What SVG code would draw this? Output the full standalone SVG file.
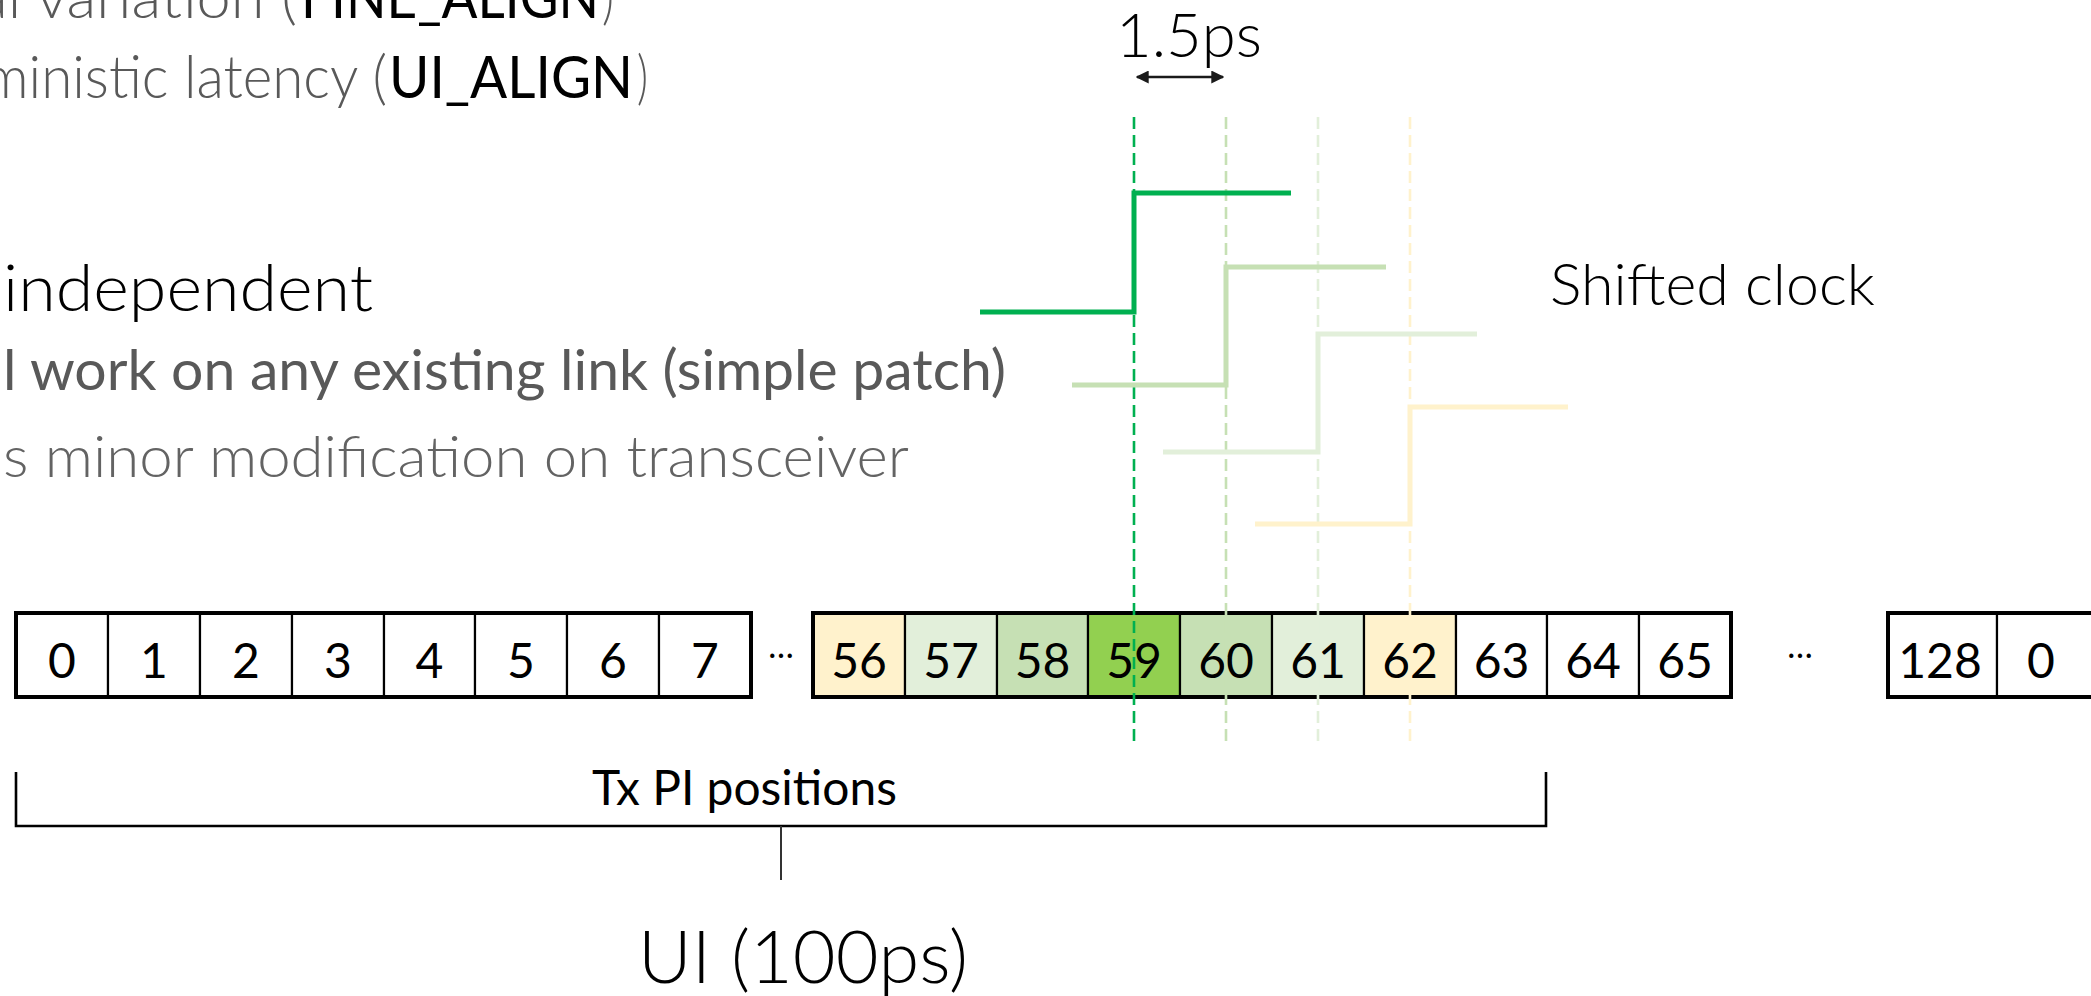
<svg xmlns="http://www.w3.org/2000/svg" width="2091" height="996" viewBox="0 0 2091 996">
<defs>
<style>
text{font-family:Lato,"Open Sans","Liberation Sans",sans-serif}
.lt{font-weight:300}
.rg{font-weight:400}
.gray{fill:#595959}
.gray2{fill:#636363}
.blk{fill:#000}
.cell{stroke:#000;stroke-width:2.2}
.frame{fill:none;stroke:#000;stroke-width:4}
.num{font-size:48px;text-anchor:middle;fill:#000;font-weight:400}
.dots{font-size:34px;text-anchor:middle;fill:#000}
.dash{fill:none;stroke-width:2.6;stroke-dasharray:12 6}
.clk{fill:none;stroke-width:5;stroke-linejoin:miter}
</style>
<marker id="ah" viewBox="0 0 10 10" refX="9" refY="5" markerWidth="5" markerHeight="5" orient="auto-start-reverse" markerUnits="strokeWidth">
<path d="M0,0 L10,5 L0,10 Z" fill="#1a1a1a"/>
</marker>
</defs>
<rect width="2091" height="996" fill="#fff"/>

<g id="bullets">
<text x="-22" y="18" font-size="59" class="lt gray" textLength="319" lengthAdjust="spacingAndGlyphs">al variation (</text>
<text x="301" y="18" font-size="59" class="rg blk" textLength="298" lengthAdjust="spacingAndGlyphs">FINE_ALIGN</text>
<text x="602" y="18" font-size="59" class="lt gray" textLength="12" lengthAdjust="spacingAndGlyphs">)</text>
<text x="-17" y="98" font-size="59" class="lt gray" textLength="404" lengthAdjust="spacingAndGlyphs">ministic latency (</text>
<text x="389" y="98" font-size="59" class="rg blk" textLength="244" lengthAdjust="spacingAndGlyphs">UI_ALIGN</text>
<text x="637" y="98" font-size="59" class="lt gray" textLength="11" lengthAdjust="spacingAndGlyphs">)</text>
<text x="3" y="311" font-size="65" class="lt blk" textLength="370" lengthAdjust="spacingAndGlyphs">independent</text>
<text x="3" y="390" font-size="56" class="rg gray" textLength="1003" lengthAdjust="spacingAndGlyphs">l work on any existing link (simple patch)</text>
<text x="3" y="477" font-size="58" class="lt gray2" textLength="906" lengthAdjust="spacingAndGlyphs">s minor modification on transceiver</text>
</g>

<g id="shifted-clock-label">
<text x="1550" y="305" font-size="58" class="lt blk" textLength="325" lengthAdjust="spacingAndGlyphs">Shifted clock</text>
</g>

<g id="cells-a">
<g id="c0"><rect class="cell" x="16" y="613" width="92" height="84" fill="#fff"/><text class="num" x="62" y="678">0</text></g>
<g id="c1"><rect class="cell" x="108" y="613" width="92" height="84" fill="#fff"/><text class="num" x="154" y="678">1</text></g>
<g id="c2"><rect class="cell" x="200" y="613" width="92" height="84" fill="#fff"/><text class="num" x="246" y="678">2</text></g>
<g id="c3"><rect class="cell" x="292" y="613" width="92" height="84" fill="#fff"/><text class="num" x="338" y="678">3</text></g>
<g id="c4"><rect class="cell" x="384" y="613" width="91" height="84" fill="#fff"/><text class="num" x="429.5" y="678">4</text></g>
<g id="c5"><rect class="cell" x="475" y="613" width="92" height="84" fill="#fff"/><text class="num" x="521" y="678">5</text></g>
<g id="c6"><rect class="cell" x="567" y="613" width="92" height="84" fill="#fff"/><text class="num" x="613" y="678">6</text></g>
<g id="c7"><rect class="cell" x="659" y="613" width="92" height="84" fill="#fff"/><text class="num" x="705" y="678">7</text></g>
<rect class="frame" x="16" y="613" width="735" height="84"/>
</g>
<text class="dots" x="781" y="658">…</text>

<g id="cells-b">
<g id="c56"><rect class="cell" x="813" y="613" width="92" height="84" fill="#FFF2CC"/><text class="num" x="859" y="678">56</text></g>
<g id="c57"><rect class="cell" x="905" y="613" width="92" height="84" fill="#E2EFDA"/><text class="num" x="951" y="678">57</text></g>
<g id="c58"><rect class="cell" x="997" y="613" width="91" height="84" fill="#C6E0B4"/><text class="num" x="1042.5" y="678">58</text></g>
<g id="c59"><rect class="cell" x="1088" y="613" width="92" height="84" fill="#92D050"/><text class="num" x="1134" y="678">59</text></g>
<g id="c60"><rect class="cell" x="1180" y="613" width="92" height="84" fill="#C6E0B4"/><text class="num" x="1226" y="678">60</text></g>
<g id="c61"><rect class="cell" x="1272" y="613" width="92" height="84" fill="#E2EFDA"/><text class="num" x="1318" y="678">61</text></g>
<g id="c62"><rect class="cell" x="1364" y="613" width="92" height="84" fill="#FFF2CC"/><text class="num" x="1410" y="678">62</text></g>
<g id="c63"><rect class="cell" x="1456" y="613" width="91" height="84" fill="#fff"/><text class="num" x="1501.5" y="678">63</text></g>
<g id="c64"><rect class="cell" x="1547" y="613" width="92" height="84" fill="#fff"/><text class="num" x="1593" y="678">64</text></g>
<g id="c65"><rect class="cell" x="1639" y="613" width="92" height="84" fill="#fff"/><text class="num" x="1685" y="678">65</text></g>
<rect class="frame" x="813" y="613" width="918" height="84"/>
</g>
<text class="dots" x="1800" y="658">…</text>

<g id="cells-c">
<g id="c128"><rect class="cell" x="1888" y="613" width="109" height="84" fill="#fff"/><text class="num" x="1940" y="678">128</text></g>
<g id="c0b"><rect class="cell" x="1997" y="613" width="110" height="84" fill="#fff"/><text class="num" x="2041" y="678">0</text></g>
<rect class="frame" x="1888" y="613" width="219" height="84"/>
</g>

<g id="connectors">
<path class="dash" stroke="#00B050" d="M1134,117 V743"/>
<path class="dash" stroke="#C6E0B4" d="M1226,117 V743"/>
<path class="dash" stroke="#E2EFDA" d="M1318,117 V743"/>
<path class="dash" stroke="#FFF2CC" d="M1410,117 V743"/>
<path class="clk" stroke="#FFF2CC" d="M1255,524 H1410 V407 H1568"/>
<path class="clk" stroke="#E2EFDA" d="M1163,452 H1318 V334 H1477"/>
<path class="clk" stroke="#C6E0B4" d="M1072,385 H1226 V267 H1386"/>
<path class="clk" stroke="#00B050" stroke-width="4.5" d="M980,312 H1134 V193 H1291"/>
<line x1="1137" y1="77" x2="1223" y2="77" stroke="#1a1a1a" stroke-width="2.6" marker-start="url(#ah)" marker-end="url(#ah)"/>
<path d="M16,772 V826 H1546 V772" fill="none" stroke="#000" stroke-width="2.6"/>
<path d="M781,826 V880" fill="none" stroke="#333" stroke-width="2"/>
</g>

<g id="labels">
<text x="1116" y="57" font-size="61" class="lt blk" textLength="146" lengthAdjust="spacingAndGlyphs">1.5ps</text>
<text x="592" y="805" font-size="48" class="rg blk" textLength="305" lengthAdjust="spacingAndGlyphs">Tx PI positions</text>
<text x="638" y="983" font-size="73" class="lt blk" textLength="330" lengthAdjust="spacingAndGlyphs">UI (100ps)</text>
</g>
</svg>
